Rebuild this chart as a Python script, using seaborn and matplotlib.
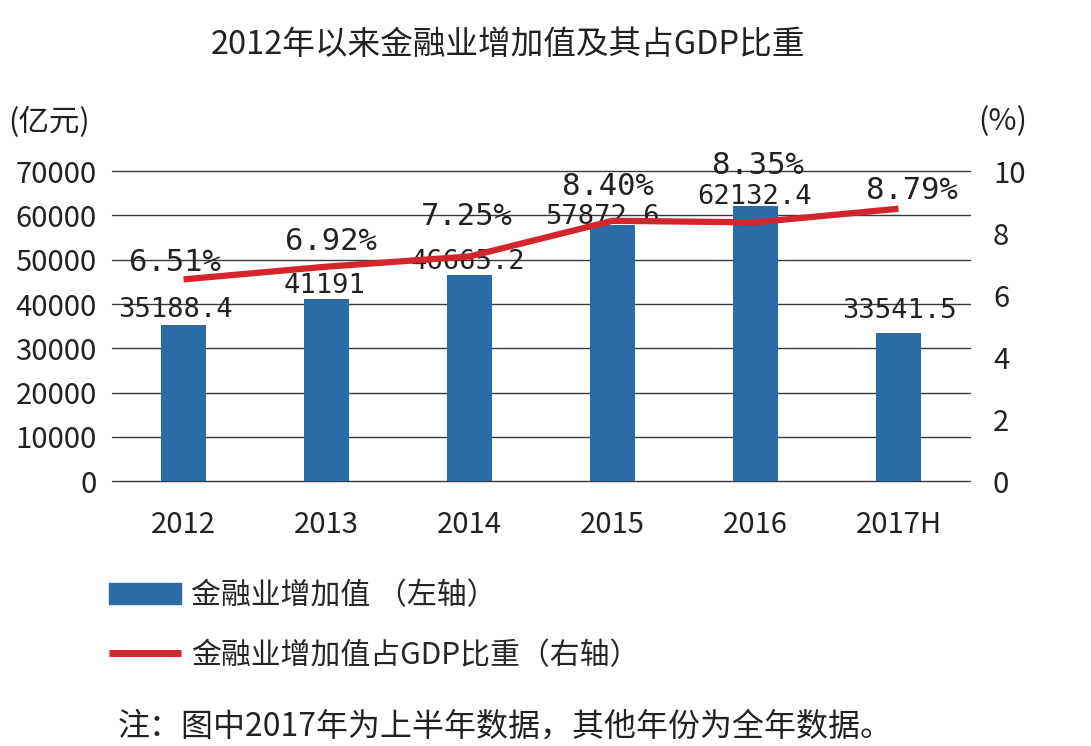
import matplotlib
matplotlib.use('Agg')
import matplotlib.pyplot as plt
import seaborn as sns
import numpy as np
import pandas as pd
from matplotlib.patches import Patch
from matplotlib.lines import Line2D

years = ['2012', '2013', '2014', '2015', '2016', '2017H']
value_added = [35188.4, 41191, 46665.2, 57872.6, 62132.4, 33541.5]
gdp_share = [6.51, 6.92, 7.25, 8.40, 8.35, 8.79]
value_labels = ['35188.4', '41191', '46665.2', '57872.6', '62132.4', '33541.5']
share_labels = ['6.51%', '6.92%', '7.25%', '8.40%', '8.35%', '8.79%']

# 原图标签是手工摆放的, 这里是像素偏移
value_nudge = [(-8, 15), (-2, 13), (-2, 13), (-10, 8), (-1, 9), (1, 22)]
share_nudge = [(-9, 17), (4, 25), (-3, 40), (-5, 34), (2, 57), (13, 18)]

blue = '#2b6ba6'
red = '#d3252b'
ink = '#222222'

df = pd.DataFrame({'year': years, 'value': value_added, 'share': gdp_share})

sns.set_style('white')
plt.rcParams['font.family'] = ['Noto Sans CJK SC', 'DejaVu Sans']

fig = plt.figure(figsize=(10.91, 7.46), dpi=100)
ax = fig.add_axes([0.1027, 0.355, 0.7864, 0.4155])

# 柱状图 - 金融业增加值
sns.barplot(data=df, x='year', y='value', color=blue, width=0.31, saturation=1,
            linewidth=0, ax=ax)
ax.set_xlim(-0.5, 5.5)
ax.set_ylim(0, 70000)
ax.set_yticks(range(0, 70001, 10000))
ax.yaxis.grid(True, color='#3a3a3a', lw=1)
for g in ax.get_ygridlines():
    g.set_clip_on(False)
ax.set_axisbelow(True)
for s in ax.spines.values():
    s.set_visible(False)
ax.tick_params(length=0, labelsize=21, colors=ink)
ax.tick_params(axis='x', pad=21)
ax.tick_params(axis='y', pad=11)
ax.set_xlabel('')
ax.set_ylabel('')

for i, (v, lab, (dx, dy)) in enumerate(zip(value_added, value_labels, value_nudge)):
    ax.annotate(lab, (i, v), xytext=(dx, dy), textcoords='offset pixels',
                ha='center', va='center', fontsize=19.5, family='DejaVu Sans Mono', color=ink)

# 折线 - 占GDP比重
ax2 = ax.twinx()
sns.lineplot(x=np.arange(len(years)), y=gdp_share, color=red, lw=4.5, ax=ax2,
             solid_capstyle='butt')
ax2.set_ylim(0, 10)
ax2.set_yticks(range(0, 11, 2))
ax2.set_xlim(-0.5, 5.5)
for s in ax2.spines.values():
    s.set_visible(False)
ax2.tick_params(length=0, labelsize=21, colors=ink, pad=16.5)

for i, (v, lab, (dx, dy)) in enumerate(zip(gdp_share, share_labels, share_nudge)):
    ax2.annotate(lab, (i, v), xytext=(dx, dy), textcoords='offset pixels',
                 ha='center', va='center', fontsize=22, family='DejaVu Sans Mono', color=ink)

fig.text(508 / 1091, 1 - 45 / 746, '2012年以来金融业增加值及其占GDP比重',
         ha='center', va='center', fontsize=23.5, color=ink)
fig.text(8 / 1091, 1 - 122 / 746, '(亿元)', ha='left', va='center', fontsize=22, color=ink)
fig.text(978 / 1091, 1 - 122 / 746, '(%)', ha='left', va='center', fontsize=22, color=ink)

handles = [Patch(color=blue), Line2D([], [], color=red, lw=5, solid_capstyle='butt')]
labels = ['金融业增加值 （左轴）', '金融业增加值占GDP比重（右轴）']
fig.legend(handles, labels, loc='upper left', bbox_to_anchor=(0.1, 0.222),
           frameon=False, fontsize=21.5, handlelength=2.4, handletextpad=0.35,
           labelspacing=0.95, borderpad=0, borderaxespad=0)

fig.text(118 / 1091, 1 - 727 / 746, '注：图中2017年为上半年数据，其他年份为全年数据。',
         ha='left', va='center', fontsize=23, color=ink)

fig.savefig('out.png', dpi=100)
